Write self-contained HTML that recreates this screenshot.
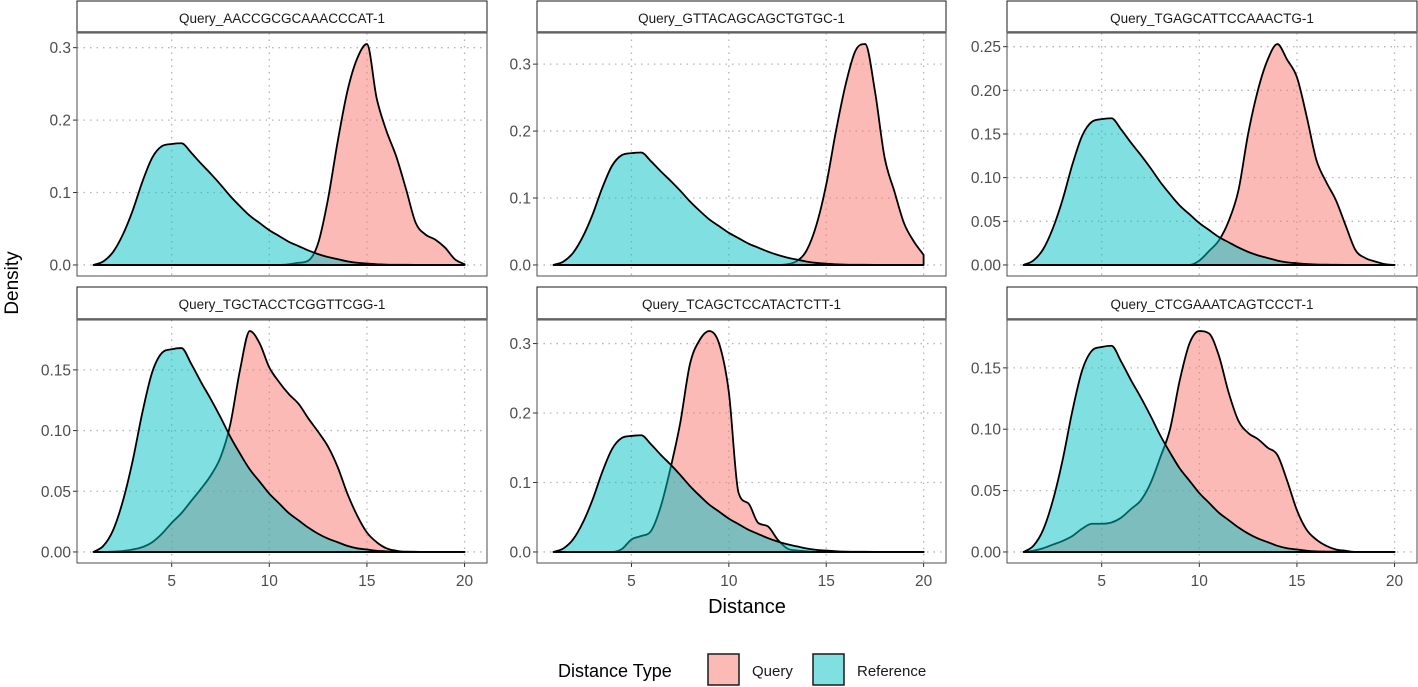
<!DOCTYPE html>
<html><head><meta charset="utf-8">
<style>
html,body{margin:0;padding:0;background:#fff;}
svg{display:block;font-family:"Liberation Sans",Arial,sans-serif;}
</style></head>
<body>
<svg id="chart" width="1418" height="687" viewBox="0 0 1418 687" xmlns="http://www.w3.org/2000/svg">
  <text x="0" y="0" transform="translate(18,283) rotate(-90)" text-anchor="middle" font-size="19" fill="#000">Density</text>
  <text x="747" y="613" text-anchor="middle" font-size="20" fill="#000">Distance</text>
  <g>
    <text x="558" y="677" font-size="18" fill="#000">Distance Type</text>
    <rect x="708" y="654" width="31" height="31" fill="#F8766D" fill-opacity="0.5" stroke="#1a1a1a" stroke-width="1.5"/>
    <text x="752" y="676" font-size="15" fill="#1a1a1a">Query</text>
    <rect x="813" y="654" width="31" height="31" fill="#00BFC4" fill-opacity="0.5" stroke="#1a1a1a" stroke-width="1.5"/>
    <text x="857" y="676" font-size="15" fill="#1a1a1a">Reference</text>
  </g>
</svg>
<script>
// x grid for all density curves
const xGrid = [1,1.5,2,2.5,3,3.5,4,4.5,5,5.5,6,6.5,7,7.5,8,8.5,9,9.5,10,10.5,11,11.5,12,12.5,13,13.5,14,14.5,15,15.5,16,16.5,17,17.5,18,18.5,19,19.5,20];
const panelTitles = ["Query_AACCGCGCAAACCCAT-1","Query_GTTACAGCAGCTGTGC-1","Query_TGAGCATTCCAAACTG-1","Query_TGCTACCTCGGTTCGG-1","Query_TCAGCTCCATACTCTT-1","Query_CTCGAAATCAGTCCCT-1"];
const referenceDensity = [0,0.005,0.018,0.042,0.075,0.115,0.148,0.164,0.167,0.168,0.155,0.14,0.126,0.111,0.095,0.081,0.068,0.058,0.048,0.04,0.032,0.026,0.02,0.015,0.011,0.008,0.005,0.003,0.002,0.001,0.0005,0.0003,0.0002,0.0001,0,0,0,0,0];
const query1 = [0,0,0,0,0,0,0,0,0,0,0,0,0,0,0,0,0,0,0,0,0.001,0.003,0.006,0.03,0.09,0.17,0.24,0.285,0.305,0.23,0.185,0.15,0.105,0.058,0.042,0.035,0.024,0.008,0.001];
const query2 = [0,0,0,0,0,0,0,0,0,0,0,0,0,0,0,0,0,0,0,0,0,0,0,0,0.001,0.006,0.022,0.06,0.12,0.2,0.27,0.32,0.33,0.26,0.16,0.11,0.062,0.035,0.015];
const query3 = [0,0,0,0,0,0,0,0,0,0,0,0,0,0,0,0,0,0,0.005,0.016,0.028,0.05,0.085,0.15,0.2,0.235,0.253,0.235,0.215,0.17,0.12,0.095,0.074,0.045,0.017,0.008,0.004,0.001,0];
const query4 = [0,0,0.0003,0.0008,0.002,0.004,0.008,0.015,0.024,0.032,0.042,0.052,0.063,0.078,0.105,0.15,0.182,0.172,0.152,0.14,0.13,0.122,0.11,0.099,0.087,0.07,0.048,0.03,0.016,0.008,0.003,0.001,0,0,0,0,0,0,0];
const query5 = [0,0,0,0,0,0,0,0.004,0.018,0.023,0.03,0.065,0.12,0.185,0.27,0.305,0.318,0.3,0.23,0.085,0.07,0.042,0.037,0.018,0.005,0.002,0.001,0,0,0,0,0,0,0,0,0,0,0,0];
const query6 = [0,0.001,0.003,0.006,0.009,0.013,0.019,0.023,0.023,0.024,0.028,0.035,0.042,0.056,0.077,0.1,0.14,0.17,0.18,0.178,0.16,0.13,0.107,0.097,0.092,0.085,0.079,0.058,0.034,0.018,0.01,0.005,0.002,0.001,0,0,0,0,0];
const queryAll = [query1,query2,query3,query4,query5,query6];
const yTicks1 = [0,0.1,0.2,0.3];
const yTicks2 = [0,0.1,0.2,0.3];
const yTicks3 = [0,0.05,0.1,0.15,0.2,0.25];
const yTicks4 = [0,0.05,0.1,0.15];
const yTicks5 = [0,0.1,0.2,0.3];
const yTicks6 = [0,0.05,0.1,0.15];
const yTickAll = [yTicks1,yTicks2,yTicks3,yTicks4,yTicks5,yTicks6];
const yDigits = [1,1,2,2,1,2];
const xTicks = [5,10,15,20];
const xDomain = [0.15,21.15];

const NS = "http://www.w3.org/2000/svg";
const svg = document.getElementById('chart');
function mk(tag, attrs, parent){
  const e = document.createElementNS(NS, tag);
  for (const k in attrs) e.setAttribute(k, attrs[k]);
  (parent||svg).appendChild(e);
  return e;
}
const colLeft = [77, 537, 1007];
const colRight = [487, 946, 1417];
const rowStrip = [1, 287];
const rowTop = [33, 320];
const rowBot = [276, 563];

// monotone cubic smoothing through points (pixel space)
function smoothPath(xs, ys, sx, sy){
  const P = xs.map((x,i)=>[sx(x), sy(ys[i])]);
  const n = P.length;
  const d = [], m = new Array(n);
  for (let i=0;i<n-1;i++) d.push((P[i+1][1]-P[i][1])/(P[i+1][0]-P[i][0]));
  m[0]=d[0]; m[n-1]=d[n-2];
  for (let i=1;i<n-1;i++){
    if (d[i-1]*d[i] <= 0) m[i]=0; else m[i]=(d[i-1]+d[i])/2;
  }
  for (let i=0;i<n-1;i++){
    if (d[i]===0){ m[i]=0; m[i+1]=0; continue; }
    const a=m[i]/d[i], b=m[i+1]/d[i], s=a*a+b*b;
    if (s>9){ const t=3/Math.sqrt(s); m[i]=t*a*d[i]; m[i+1]=t*b*d[i]; }
  }
  let path = 'M' + P[0][0].toFixed(2) + ',' + P[0][1].toFixed(2);
  for (let i=0;i<n-1;i++){
    const h=(P[i+1][0]-P[i][0])/3;
    path += 'C' + (P[i][0]+h).toFixed(2) + ',' + (P[i][1]+m[i]*h).toFixed(2) + ' ' +
            (P[i+1][0]-h).toFixed(2) + ',' + (P[i+1][1]-m[i+1]*h).toFixed(2) + ' ' +
            P[i+1][0].toFixed(2) + ',' + P[i+1][1].toFixed(2);
  }
  return path;
}
function areaPath(xs, ys, sx, sy){
  const x0 = xs[0], xn = xs[xs.length-1];
  return smoothPath(xs, ys, sx, sy) + 'L' + sx(xn).toFixed(2) + ',' + sy(0).toFixed(2) +
         'L' + sx(x0).toFixed(2) + ',' + sy(0).toFixed(2) + 'Z';
}

for (let p = 0; p < 6; p++){
  const c = p % 3, r = Math.floor(p / 3);
  const L = colLeft[c], R = colRight[c], T = rowTop[r], B = rowBot[r];
  const q = queryAll[p];
  const maxV = Math.max(Math.max(...q), Math.max(...referenceDensity));
  const y0 = -0.05*maxV, y1 = 1.05*maxV;
  const sx = v => L + (v - xDomain[0]) / (xDomain[1]-xDomain[0]) * (R - L);
  const sy = v => B - (v - y0) / (y1 - y0) * (B - T);
  const g = mk('g', {});
  
  
  const strip = mk('rect', {x:L, y:rowStrip[r], width:R-L, height:T-rowStrip[r]-1, fill:'#fff', stroke:'#1a1a1a', 'stroke-width':1}, g);
  
  
  mk('line', {x1:L, x2:R, y1:T-1, y2:T-1, stroke:'#777', 'stroke-width':2}, g);
  const st = mk('text', {x:(L+R)/2, y:rowStrip[r]+22, 'text-anchor':'middle', 'font-size':13.5, fill:'#1a1a1a'}, g);
  st.textContent = panelTitles[p];
  
  
  xTicks.forEach(t=>{
    const gl = mk('line', {x1:sx(t), x2:sx(t), y1:T, y2:B, stroke:'#b5b5b5', 'stroke-width':1.3, 'stroke-dasharray':'1.5 5'}, g);
    
    
  });
  yTickAll[p].forEach(t=>{
    const gl = mk('line', {x1:L, x2:R, y1:sy(t), y2:sy(t), stroke:'#b5b5b5', 'stroke-width':1.3, 'stroke-dasharray':'1.5 5'}, g);
    
    
    mk('line', {x1:L-4, x2:L, y1:sy(t), y2:sy(t), stroke:'#333', 'stroke-width':1}, g);
    const lt = mk('text', {x:L-6, y:sy(t)+5.5, 'text-anchor':'end', 'font-size':15.5, fill:'#4d4d4d'}, g);
    lt.textContent = t.toFixed(yDigits[p]);
    
    
  });
  const qa = mk('path', {d: areaPath(xGrid, q, sx, sy), fill:'#F8766D', 'fill-opacity':0.5, stroke:'#000', 'stroke-width':1.8, 'stroke-linejoin':'round'}, g);
  
  
  const ra = mk('path', {d: areaPath(xGrid, referenceDensity, sx, sy), fill:'#00BFC4', 'fill-opacity':0.5, stroke:'#000', 'stroke-width':1.8, 'stroke-linejoin':'round'}, g);
  
  
  const bd = mk('rect', {x:L, y:T, width:R-L, height:B-T, fill:'none', stroke:'#4d4d4d', 'stroke-width':1}, g);
  
  
  if (r === 1){
    xTicks.forEach(t=>{
      mk('line', {x1:sx(t), x2:sx(t), y1:B, y2:B+4, stroke:'#333', 'stroke-width':1}, g);
      const xt = mk('text', {x:sx(t), y:B+23, 'text-anchor':'middle', 'font-size':15.5, fill:'#4d4d4d'}, g);
      xt.textContent = t;
      
      
    });
  }
}
</script>
</body></html>
